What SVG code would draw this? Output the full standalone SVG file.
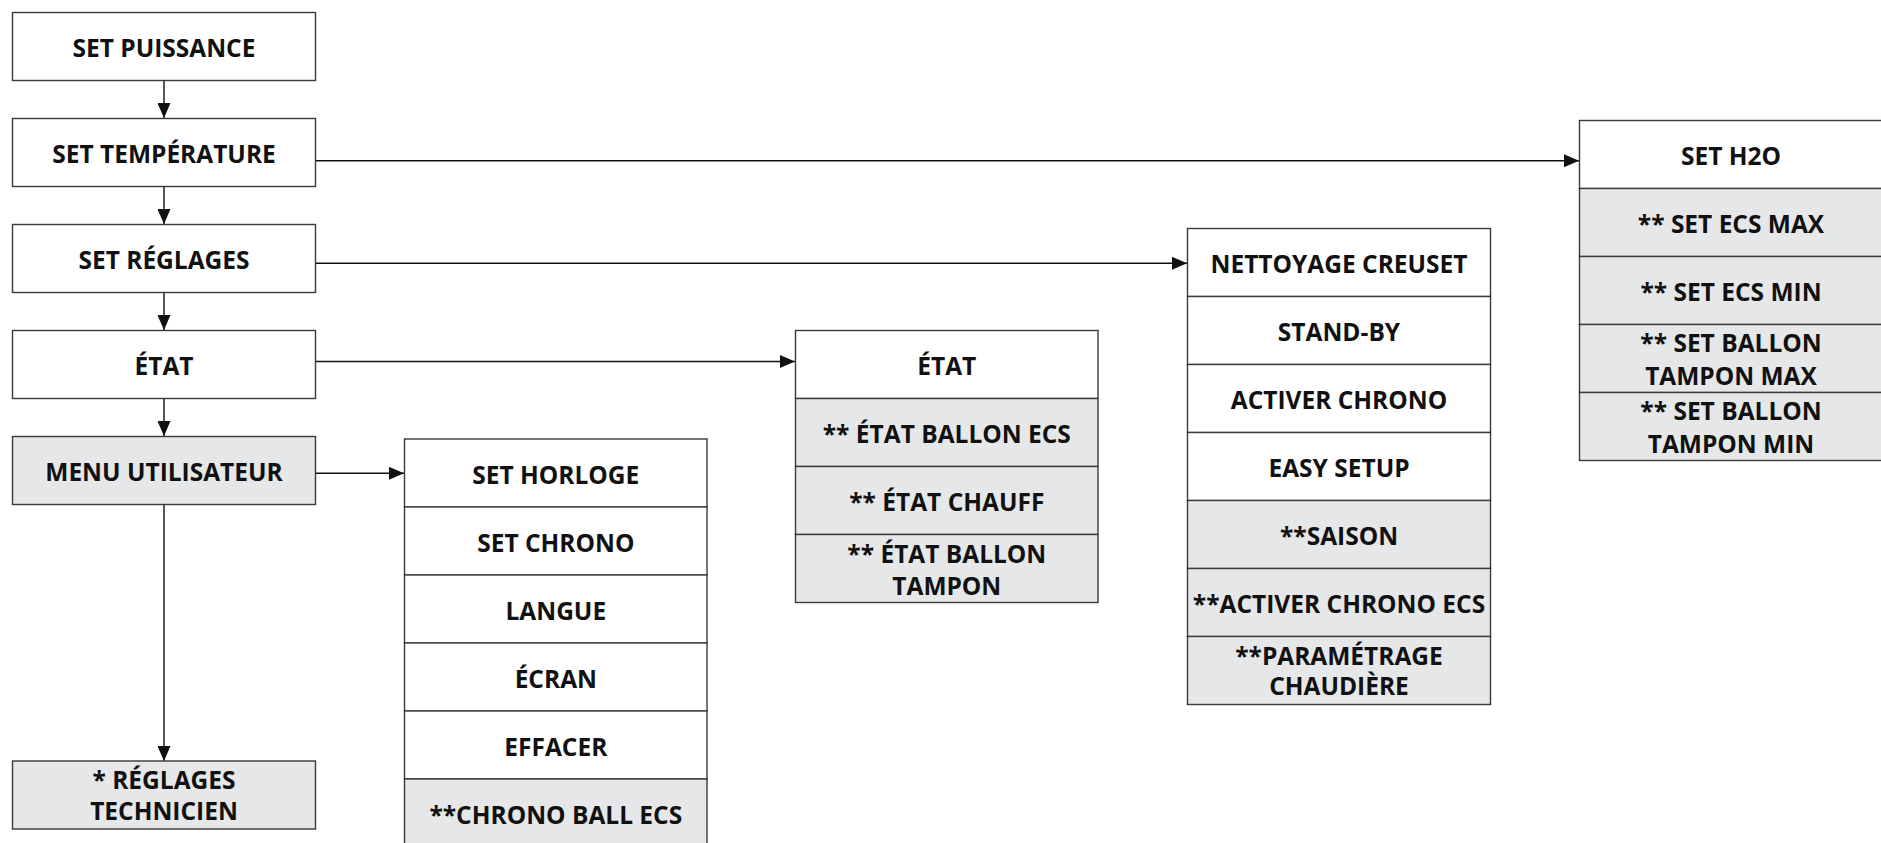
<svg xmlns="http://www.w3.org/2000/svg" width="1881" height="843" viewBox="0 0 1881 843">
  <style>
    .box { fill: #ffffff; stroke: #3a3a3a; stroke-width: 1.4; }
    .opt { fill: #e6e7e8; stroke: #3a3a3a; stroke-width: 1.4; }
    .lbl { font-family: "Open Sans", "Noto Sans", "Liberation Sans", sans-serif; font-weight: 700; font-size: 24.5px; fill: #111111; text-anchor: middle; }
    .link { fill: none; stroke: #111111; stroke-width: 1.4; marker-end: url(#arrow); }
  </style>
  <defs>
    <marker id="arrow" markerUnits="userSpaceOnUse" markerWidth="15" markerHeight="13" refX="15" refY="6.5" orient="auto">
      <path d="M0,0 L15,6.5 L0,13 z" fill="#111111"/>
    </marker>
  </defs>
  <rect width="1881" height="843" fill="#ffffff"/>

  <!-- connectors -->
  <g id="connectors">
    <path class="link" d="M164,80.5 V118"/>
    <path class="link" d="M164,186.5 V224"/>
    <path class="link" d="M164,292.5 V330"/>
    <path class="link" d="M164,398.5 V436"/>
    <path class="link" d="M164,504.5 V761"/>
    <path class="link" d="M315.5,160.7 H1579"/>
    <path class="link" d="M315.5,263.3 H1187"/>
    <path class="link" d="M315.5,361.5 H795"/>
    <path class="link" d="M315.5,473.3 H404"/>
  </g>

  <!-- main menu column -->
  <g id="set-puissance">
    <rect class="box" x="12.5" y="12.5" width="303" height="68"/>
    <text class="lbl" x="164" y="57">SET PUISSANCE</text>
  </g>
  <g id="set-temperature">
    <rect class="box" x="12.5" y="118.5" width="303" height="68"/>
    <text class="lbl" x="164" y="163">SET TEMPÉRATURE</text>
  </g>
  <g id="set-reglages">
    <rect class="box" x="12.5" y="224.5" width="303" height="68"/>
    <text class="lbl" x="164" y="269">SET RÉGLAGES</text>
  </g>
  <g id="etat">
    <rect class="box" x="12.5" y="330.5" width="303" height="68"/>
    <text class="lbl" x="164" y="375">ÉTAT</text>
  </g>
  <g id="menu-utilisateur">
    <rect class="opt" x="12.5" y="436.5" width="303" height="68"/>
    <text class="lbl" x="164" y="481">MENU UTILISATEUR</text>
  </g>
  <g id="reglages-technicien">
    <rect class="opt" x="12.5" y="761" width="303" height="68"/>
    <text class="lbl" x="164" y="789">* RÉGLAGES</text>
    <text class="lbl" x="164" y="820">TECHNICIEN</text>
  </g>

  <!-- user menu entries -->
  <g id="user-menu">
    <rect class="box" x="404.5" y="439" width="302.5" height="68"/>
    <text class="lbl" x="555.8" y="483.5">SET HORLOGE</text>
    <rect class="box" x="404.5" y="507" width="302.5" height="68"/>
    <text class="lbl" x="555.8" y="551.5">SET CHRONO</text>
    <rect class="box" x="404.5" y="575" width="302.5" height="68"/>
    <text class="lbl" x="555.8" y="619.5">LANGUE</text>
    <rect class="box" x="404.5" y="643" width="302.5" height="68"/>
    <text class="lbl" x="555.8" y="687.5">ÉCRAN</text>
    <rect class="box" x="404.5" y="711" width="302.5" height="68"/>
    <text class="lbl" x="555.8" y="755.5">EFFACER</text>
    <rect class="opt" x="404.5" y="779" width="302.5" height="68"/>
    <text class="lbl" x="555.8" y="823.5">**CHRONO BALL ECS</text>
  </g>

  <!-- status entries -->
  <g id="etat-menu">
    <rect class="box" x="795.5" y="330.5" width="302.5" height="68"/>
    <text class="lbl" x="946.8" y="375">ÉTAT</text>
    <rect class="opt" x="795.5" y="398.5" width="302.5" height="68"/>
    <text class="lbl" x="946.8" y="443">** ÉTAT BALLON ECS</text>
    <rect class="opt" x="795.5" y="466.5" width="302.5" height="68"/>
    <text class="lbl" x="946.8" y="511">** ÉTAT CHAUFF</text>
    <rect class="opt" x="795.5" y="534.5" width="302.5" height="68"/>
    <text class="lbl" x="946.8" y="563">** ÉTAT BALLON</text>
    <text class="lbl" x="946.8" y="595">TAMPON</text>
  </g>

  <!-- settings entries -->
  <g id="reglages-menu">
    <rect class="box" x="1187.5" y="228.5" width="303" height="68"/>
    <text class="lbl" x="1339" y="273">NETTOYAGE CREUSET</text>
    <rect class="box" x="1187.5" y="296.5" width="303" height="68"/>
    <text class="lbl" x="1339" y="341">STAND-BY</text>
    <rect class="box" x="1187.5" y="364.5" width="303" height="68"/>
    <text class="lbl" x="1339" y="409">ACTIVER CHRONO</text>
    <rect class="box" x="1187.5" y="432.5" width="303" height="68"/>
    <text class="lbl" x="1339" y="477">EASY SETUP</text>
    <rect class="opt" x="1187.5" y="500.5" width="303" height="68"/>
    <text class="lbl" x="1339" y="545">**SAISON</text>
    <rect class="opt" x="1187.5" y="568.5" width="303" height="68"/>
    <text class="lbl" x="1339" y="613">**ACTIVER CHRONO ECS</text>
    <rect class="opt" x="1187.5" y="636.5" width="303" height="68"/>
    <text class="lbl" x="1339" y="665">**PARAMÉTRAGE</text>
    <text class="lbl" x="1339" y="695">CHAUDIÈRE</text>
  </g>

  <!-- water temperature entries -->
  <g id="set-h2o-menu">
    <rect class="box" x="1579.5" y="120.5" width="303" height="68"/>
    <text class="lbl" x="1731" y="165">SET H2O</text>
    <rect class="opt" x="1579.5" y="188.5" width="303" height="68"/>
    <text class="lbl" x="1731" y="233">** SET ECS MAX</text>
    <rect class="opt" x="1579.5" y="256.5" width="303" height="68"/>
    <text class="lbl" x="1731" y="301">** SET ECS MIN</text>
    <rect class="opt" x="1579.5" y="324.5" width="303" height="68"/>
    <text class="lbl" x="1731" y="352">** SET BALLON</text>
    <text class="lbl" x="1731" y="385">TAMPON MAX</text>
    <rect class="opt" x="1579.5" y="392.5" width="303" height="68"/>
    <text class="lbl" x="1731" y="420">** SET BALLON</text>
    <text class="lbl" x="1731" y="453">TAMPON MIN</text>
  </g>
</svg>
